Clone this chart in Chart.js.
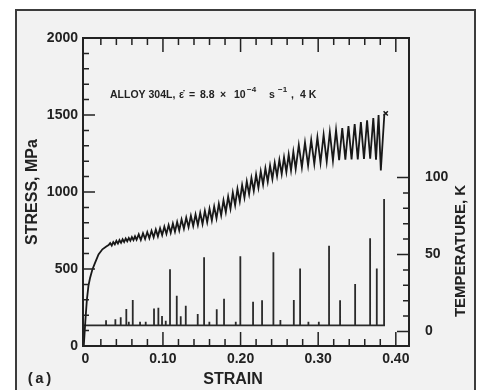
<!DOCTYPE html>
<html>
<head>
<meta charset="utf-8">
<script src="https://cdn.jsdelivr.net/npm/chart.js@4.4.1/dist/chart.umd.min.js"></script>
<style>
  html, body { margin: 0; padding: 0; background: #fff; }
  #wrap { width: 479px; height: 390px; }
</style>
</head>
<body>
<div id="wrap"><canvas id="chart" width="479" height="390"></canvas></div>
<script>
// stress-strain curve (peaks and valleys of the serrations)
const strain = [
  -0.002, 0.000, 0.002, 0.004, 0.006, 0.009, 0.0125, 0.017, 0.022, 0.027, 0.030,
  0.032, 0.034, 0.036, 0.038, 0.040, 0.042, 0.044, 0.046, 0.048, 0.050,
  0.052, 0.054, 0.056, 0.058, 0.060, 0.062, 0.064, 0.066,
  0.0688, 0.0715, 0.0743, 0.077, 0.0798, 0.0825, 0.0853, 0.088, 0.0908, 0.0935,
  0.0963, 0.099, 0.1018, 0.1045, 0.1073, 0.110, 0.1128, 0.1155, 0.1183, 0.121,
  0.124, 0.127, 0.130, 0.133, 0.136, 0.139, 0.142, 0.145, 0.148, 0.151,
  0.154, 0.157, 0.160, 0.163, 0.166, 0.169, 0.172, 0.175, 0.178, 0.181,
  0.184, 0.187, 0.190, 0.193, 0.196, 0.199, 0.202, 0.205, 0.208, 0.211,
  0.214, 0.217, 0.220, 0.223, 0.226, 0.229, 0.232, 0.235, 0.238, 0.241,
  0.244, 0.247, 0.250, 0.253, 0.256, 0.259, 0.262, 0.265, 0.268, 0.271,
  0.275, 0.279, 0.283, 0.287, 0.291, 0.295, 0.299, 0.303, 0.307, 0.311,
  0.315, 0.319, 0.323, 0.327, 0.331, 0.335, 0.339, 0.343, 0.347, 0.351,
  0.355, 0.359, 0.363, 0.367, 0.371, 0.3745, 0.3778, 0.3807, 0.3853
];
const stress = [
  0, 160, 300, 390, 440, 495, 540, 595, 628, 646, 655,
  668, 652, 675, 660, 683, 665, 688, 670, 693, 675,
  698, 680, 702, 684, 707, 688, 712, 690,
  725, 688, 732, 695, 740, 700, 748, 706, 757, 712,
  765, 720, 775, 728, 785, 735, 795, 742, 805, 750,
  822, 762, 834, 772, 846, 779, 854, 785, 864, 792,
  878, 804, 891, 815, 906, 829, 923, 848, 946, 869,
  970, 891, 996, 915, 1021, 939, 1045, 963, 1069, 986,
  1092, 1007, 1113, 1027, 1134, 1048, 1154, 1067, 1172, 1085,
  1190, 1103, 1208, 1117, 1225, 1130, 1243, 1140, 1261, 1150,
  1305, 1160, 1322, 1172, 1338, 1182, 1355, 1190, 1372, 1198,
  1388, 1203, 1402, 1207, 1415, 1210, 1428, 1212, 1441, 1212,
  1454, 1214, 1466, 1216, 1480, 1210, 1500, 1140, 1508
];
// fracture mark
const fractureStrain = [0.387];
const fractureStress = [1510];

// temperature bursts on the 4 K baseline
const baseTemp = 4;
const spikeStrain = [
  0.0267, 0.0387, 0.0456, 0.0528, 0.056, 0.0611, 0.0705, 0.0778, 0.0885, 0.0941,
  0.0988, 0.1036, 0.1091, 0.1178, 0.1229, 0.1294, 0.1448, 0.1530, 0.1598, 0.1693,
  0.1787, 0.1938, 0.1997, 0.2161, 0.2277, 0.2423, 0.2513, 0.2686, 0.2767, 0.2874,
  0.3008, 0.3140, 0.3282, 0.3476, 0.3669, 0.3755, 0.3849
];
const spikeTemp = [
  7.3, 7.9, 9.2, 14.6, 6.4, 20.5, 6.4, 6.4, 15, 15.5,
  10, 7, 40.4, 23.3, 9.9, 16.8, 11.4, 48.2, 6.4, 14.4,
  21.3, 6.4, 48.8, 19.4, 20.3, 51.4, 7.5, 20.5, 41, 6.4,
  6.4, 55.7, 20.3, 30.8, 60.5, 41, 86
];

const strainTicks = [0, 0.1, 0.2, 0.3, 0.4];
const strainLabels = ['0', '0.10', '0.20', '0.30', '0.40'];
const stressTicks = [0, 500, 1000, 1500, 2000];
const tempTicks = [0, 50, 100];

Chart.defaults.font.family = "'Liberation Sans', Arial, sans-serif";

const stressData = strain.map((s, i) => ({ x: s, y: stress[i] }));
const tempData = [{ x: -0.003, y: baseTemp }];
spikeStrain.forEach((s, i) => {
  tempData.push({ x: s, y: baseTemp }, { x: s, y: spikeTemp[i] }, { x: s, y: baseTemp });
});
const fractureData = fractureStrain.map((s, i) => ({ x: s, y: fractureStress[i] }));

const ink = '#222222';

const paper = {
  id: 'paper',
  beforeDraw(chart) {
    const ctx = chart.ctx;
    ctx.save();
    ctx.fillStyle = '#ffffff';
    ctx.fillRect(0, 0, chart.width, chart.height);
    ctx.fillStyle = '#f2f2f2';
    ctx.fillRect(16, 10, 459, 382);
    ctx.strokeStyle = '#3c3c3c';
    ctx.lineWidth = 2;
    ctx.beginPath();
    ctx.moveTo(16, 395); ctx.lineTo(16, 10); ctx.lineTo(475, 10); ctx.lineTo(475, 395);
    ctx.stroke();
    ctx.restore();
  },
  afterDraw(chart) {
    const ctx = chart.ctx;
    const a = chart.chartArea;
    const sx = chart.scales.x, sy = chart.scales.y, st = chart.scales.yT;
    ctx.save();
    ctx.strokeStyle = ink;
    ctx.lineWidth = 2;
    ctx.strokeRect(a.left, a.top, a.right - a.left, a.bottom - a.top);

    ctx.lineWidth = 1.5;
    ctx.beginPath();
    for (let v = 100; v < 2000; v += 100) {
      const py = sy.getPixelForValue(v);
      const len = v % 500 === 0 ? 12 : 6;
      ctx.moveTo(a.left, py); ctx.lineTo(a.left + len, py);
    }
    for (let i = 1; i <= 20; i++) {
      const px = sx.getPixelForValue(i * 0.02);
      const len = i % 5 === 0 ? 14 : 7;
      ctx.moveTo(px, a.top); ctx.lineTo(px, a.top + len);
      ctx.moveTo(px, a.bottom); ctx.lineTo(px, a.bottom - len);
    }
    for (let v = 0; v <= 100; v += 10) {
      const py = st.getPixelForValue(v);
      const len = v % 50 === 0 ? 12 : 6;
      ctx.moveTo(a.right, py); ctx.lineTo(a.right - len, py);
    }
    ctx.stroke();

    // axis titles
    ctx.fillStyle = ink;
    ctx.textAlign = 'center';
    ctx.textBaseline = 'middle';
    ctx.font = "bold 16px 'Liberation Sans', Arial, sans-serif";
    ctx.fillText('STRAIN', 233, 380);
    ctx.save();
    ctx.translate(33, 192);
    ctx.rotate(-Math.PI / 2);
    ctx.fillText('STRESS, MPa', 0, 0);
    ctx.restore();
    ctx.save();
    ctx.translate(461, 251);
    ctx.rotate(-Math.PI / 2);
    ctx.font = "bold 15px 'Liberation Sans', Arial, sans-serif";
    ctx.fillText('TEMPERATURE, K', 0, 0);
    ctx.restore();

    ctx.font = "bold 15px 'Liberation Mono', monospace";
    ctx.textAlign = 'left';
    ctx.fillText('(a)', 26, 379);

    // test conditions
    const note = [
      ['ALLOY 304L,', 110, 0], ['\u03b5\u0307', 179, 0], ['=', 189, 0], ['8.8', 200, 0],
      ['\u00d7', 220, 0], ['10', 234, 0], ['\u22124', 247, 1], ['s', 269, 0],
      ['\u22121', 278, 1], [',', 291, 0], ['4 K', 300, 0]
    ];
    ctx.textBaseline = 'alphabetic';
    for (const [txt, px, sup] of note) {
      ctx.font = sup ? "bold 8px 'Liberation Sans', Arial, sans-serif"
                     : "bold 10.5px 'Liberation Sans', Arial, sans-serif";
      ctx.fillText(txt, px, sup ? 92 : 97.5);
    }
    ctx.restore();
  }
};

new Chart(document.getElementById('chart'), {
  type: 'line',
  data: {
    datasets: [
      {
        data: stressData,
        yAxisID: 'y',
        borderColor: '#181818',
        borderWidth: 1.8,
        pointRadius: 0,
        tension: 0,
      },
      {
        data: tempData,
        yAxisID: 'yT',
        borderColor: '#2a2a2a',
        borderWidth: 1.8,
        pointRadius: 0,
        tension: 0,
      },
      {
        data: fractureData,
        yAxisID: 'y',
        showLine: false,
        pointStyle: 'crossRot',
        pointRadius: 3,
        borderColor: '#181818',
        borderWidth: 1.5,
      },
    ]
  },
  options: {
    responsive: false,
    devicePixelRatio: 1,
    animation: false,
    layout: { padding: { top: 38, left: 0, right: 0, bottom: 0 } },
    plugins: { legend: { display: false }, tooltip: { enabled: false } },
    scales: {
      x: {
        type: 'linear',
        min: -0.003,
        max: 0.417,
        afterBuildTicks: s => { s.ticks = strainTicks.map(v => ({ value: v })); },
        afterFit: s => { s.height = 44; },
        ticks: {
          callback: (v, i) => strainLabels[i],
          font: { size: 14, weight: 'bold' },
          color: ink,
          padding: 5,
          maxRotation: 0,
          autoSkip: false,
        },
        grid: { display: false, drawTicks: false },
        border: { display: false },
      },
      y: {
        position: 'left',
        min: 0,
        max: 2000,
        afterBuildTicks: s => { s.ticks = stressTicks.map(v => ({ value: v })); },
        afterFit: s => { s.width = 83; },
        ticks: { callback: v => String(v), font: { size: 14, weight: 'bold' }, color: ink, padding: 5 },
        grid: { display: false, drawTicks: false },
        border: { display: false },
      },
      yT: {
        position: 'right',
        min: -9.4,
        max: 190.6,
        afterBuildTicks: s => { s.ticks = tempTicks.map(v => ({ value: v })); },
        afterFit: s => { s.width = 70; },
        ticks: { callback: v => String(v), font: { size: 14, weight: 'bold' }, color: ink, padding: 16 },
        grid: { display: false, drawTicks: false },
        border: { display: false },
      },
    },
  },
  plugins: [paper],
});
</script>
</body>
</html>
